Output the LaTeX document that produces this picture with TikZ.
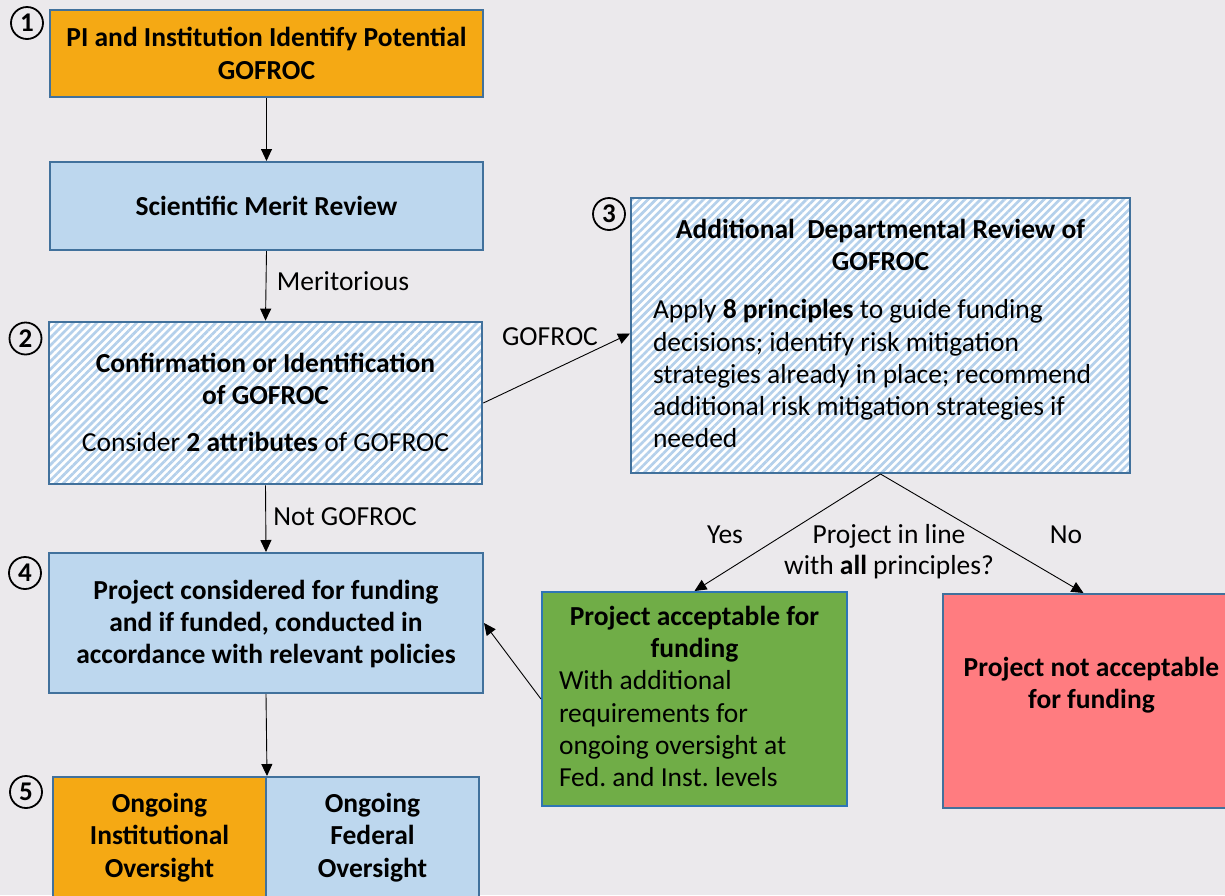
\documentclass[tikz,border=0pt]{standalone}
\usepackage{fontspec}
\setmainfont{Carlito}
\usetikzlibrary{arrows.meta,patterns.meta}
\definecolor{bg}{RGB}{235,233,236}
\definecolor{orng}{RGB}{245,169,20}
\definecolor{lblue}{RGB}{189,215,238}
\definecolor{bord}{RGB}{65,113,156}
\definecolor{hatchc}{RGB}{180,208,235}
\definecolor{grn}{RGB}{112,173,71}
\definecolor{rd}{RGB}{255,124,128}
\definecolor{gbord}{RGB}{46,117,182}
\newcommand\ctxt[2][-2.5pt]{\raisebox{#1}[\height][\depth]{\begin{tabular}{@{}c@{}}#2\end{tabular}}}
\newcommand\shiftbox[2]{\raisebox{#1}[\height][\depth]{#2}}
\frenchspacing
\tikzset{
  boxbase/.style={draw=bord, line width=2pt, inner sep=0pt,
    font=\bfseries\fontsize{27.5}{32.3}\selectfont},
  orangebox/.style={boxbase, fill=orng},
  bluebox/.style={boxbase, fill=lblue},
  hatchbox/.style={boxbase, preaction={fill=white},
    pattern={Lines[angle=45,distance=5.6pt,line width=2.7pt]}, pattern color=hatchc},
  numcirc/.style={circle, draw=black, line width=1.8pt, fill=bg, inner sep=0pt,
    minimum size=32pt, font=\bfseries\fontsize{27}{27}\selectfont},
  conn/.style={line width=0.9pt, -{Triangle[length=12pt,width=11pt]}},
  lbl/.style={font=\fontsize{27.5}{31}\selectfont, inner sep=0pt, align=center}
}
\begin{document}
\begin{tikzpicture}[x=1pt,y=-1pt]
\fill[bg] (0,0) rectangle (1225,895);
\useasboundingbox (0,0) rectangle (1225,895);

% boxes
\node[orangebox, minimum width=433pt, minimum height=87pt] (pi) at (266.5,53.5)
  {\ctxt[-3pt]{PI and Institution Identify Potential\\GOFROC}};
\node[bluebox, minimum width=433pt, minimum height=88pt] (smr) at (266.5,206)
  {Scientific Merit Review};
\node[hatchbox, minimum width=433pt, minimum height=162pt] (conf) at (265.5,403)
  {\ctxt{Confirmation or Identification\\of GOFROC\\[15pt]\mdseries Consider \textbf{2 attributes} of GOFROC}};
\node[hatchbox, minimum width=499pt, minimum height=275pt] (adr) at (880.5,335.5)
  {\shiftbox{2pt}{\parbox{455pt}{\centering Additional\ \ Departmental Review of\\GOFROC\par\vspace{16pt}\raggedright\mdseries
   Apply \textbf{8 principles} to guide funding\\decisions; identify risk mitigation\\strategies already in place; recommend\\additional risk mitigation strategies if\\needed}}};
\node[bluebox, minimum width=434pt, minimum height=140pt] (proj) at (266,623)
  {\ctxt[-2pt]{Project considered for funding\\and if funded, conducted in\\accordance with relevant policies}};
\node[boxbase, draw=gbord, fill=grn, minimum width=305pt, minimum height=214pt] (acc) at (694.5,699)
  {\shiftbox{2.5pt}{\parbox{271pt}{\centering Project acceptable for\\funding\par\raggedright\mdseries
   With additional\\requirements for\\ongoing oversight at\\Fed. and Inst. levels}}};
\node[boxbase, fill=rd, minimum width=297pt, minimum height=214pt] (notacc) at (1091.5,701)
  {\ctxt[15pt]{Project not acceptable\\for funding}};
\node[orangebox, minimum width=213pt, minimum height=128pt] (inst) at (159.5,841)
  {\ctxt[2.5pt]{Ongoing\\Institutional\\Oversight}};
\node[bluebox, minimum width=213pt, minimum height=128pt] (fed) at (372.5,841)
  {\ctxt[2.5pt]{Ongoing\\Federal\\Oversight}};

% numbers
\node[numcirc] (n1) at (27,23) {1};
\node[numcirc] (n2) at (25.5,338.5) {2};
\node[numcirc] (n3) at (609,214) {3};
\node[numcirc] (n4) at (25,573) {4};
\node[numcirc] (n5) at (26,792) {5};

% connectors
\draw[conn] (pi.south) -- (smr.north);
\draw[conn] (smr.south) -- (conf.north);
\draw[conn] (conf.south) -- (proj.north);
\draw[conn] (proj.south) -- (inst.north east);
\draw[conn] (conf.east) -- ([yshift=2pt]adr.west);
\draw[conn] (adr.south) -- (acc.north);
\draw[conn] (adr.south) -- ([xshift=-8pt]notacc.north);
\draw[conn] (acc.west) -- (proj.east);

% labels
\node[lbl] (lmer) at (343,281) {Meritorious};
\node[lbl] (lnot) at (345,517) {Not GOFROC};
\node[lbl] (lgof) at (550,337) {GOFROC};
\node[lbl] (lyes) at (725,535) {Yes};
\node[lbl] (lno) at (1066,535) {No};
\node[lbl] (lq) at (889,551.5) {Project in line\\with \textbf{all} principles?};
\end{tikzpicture}
\end{document}
